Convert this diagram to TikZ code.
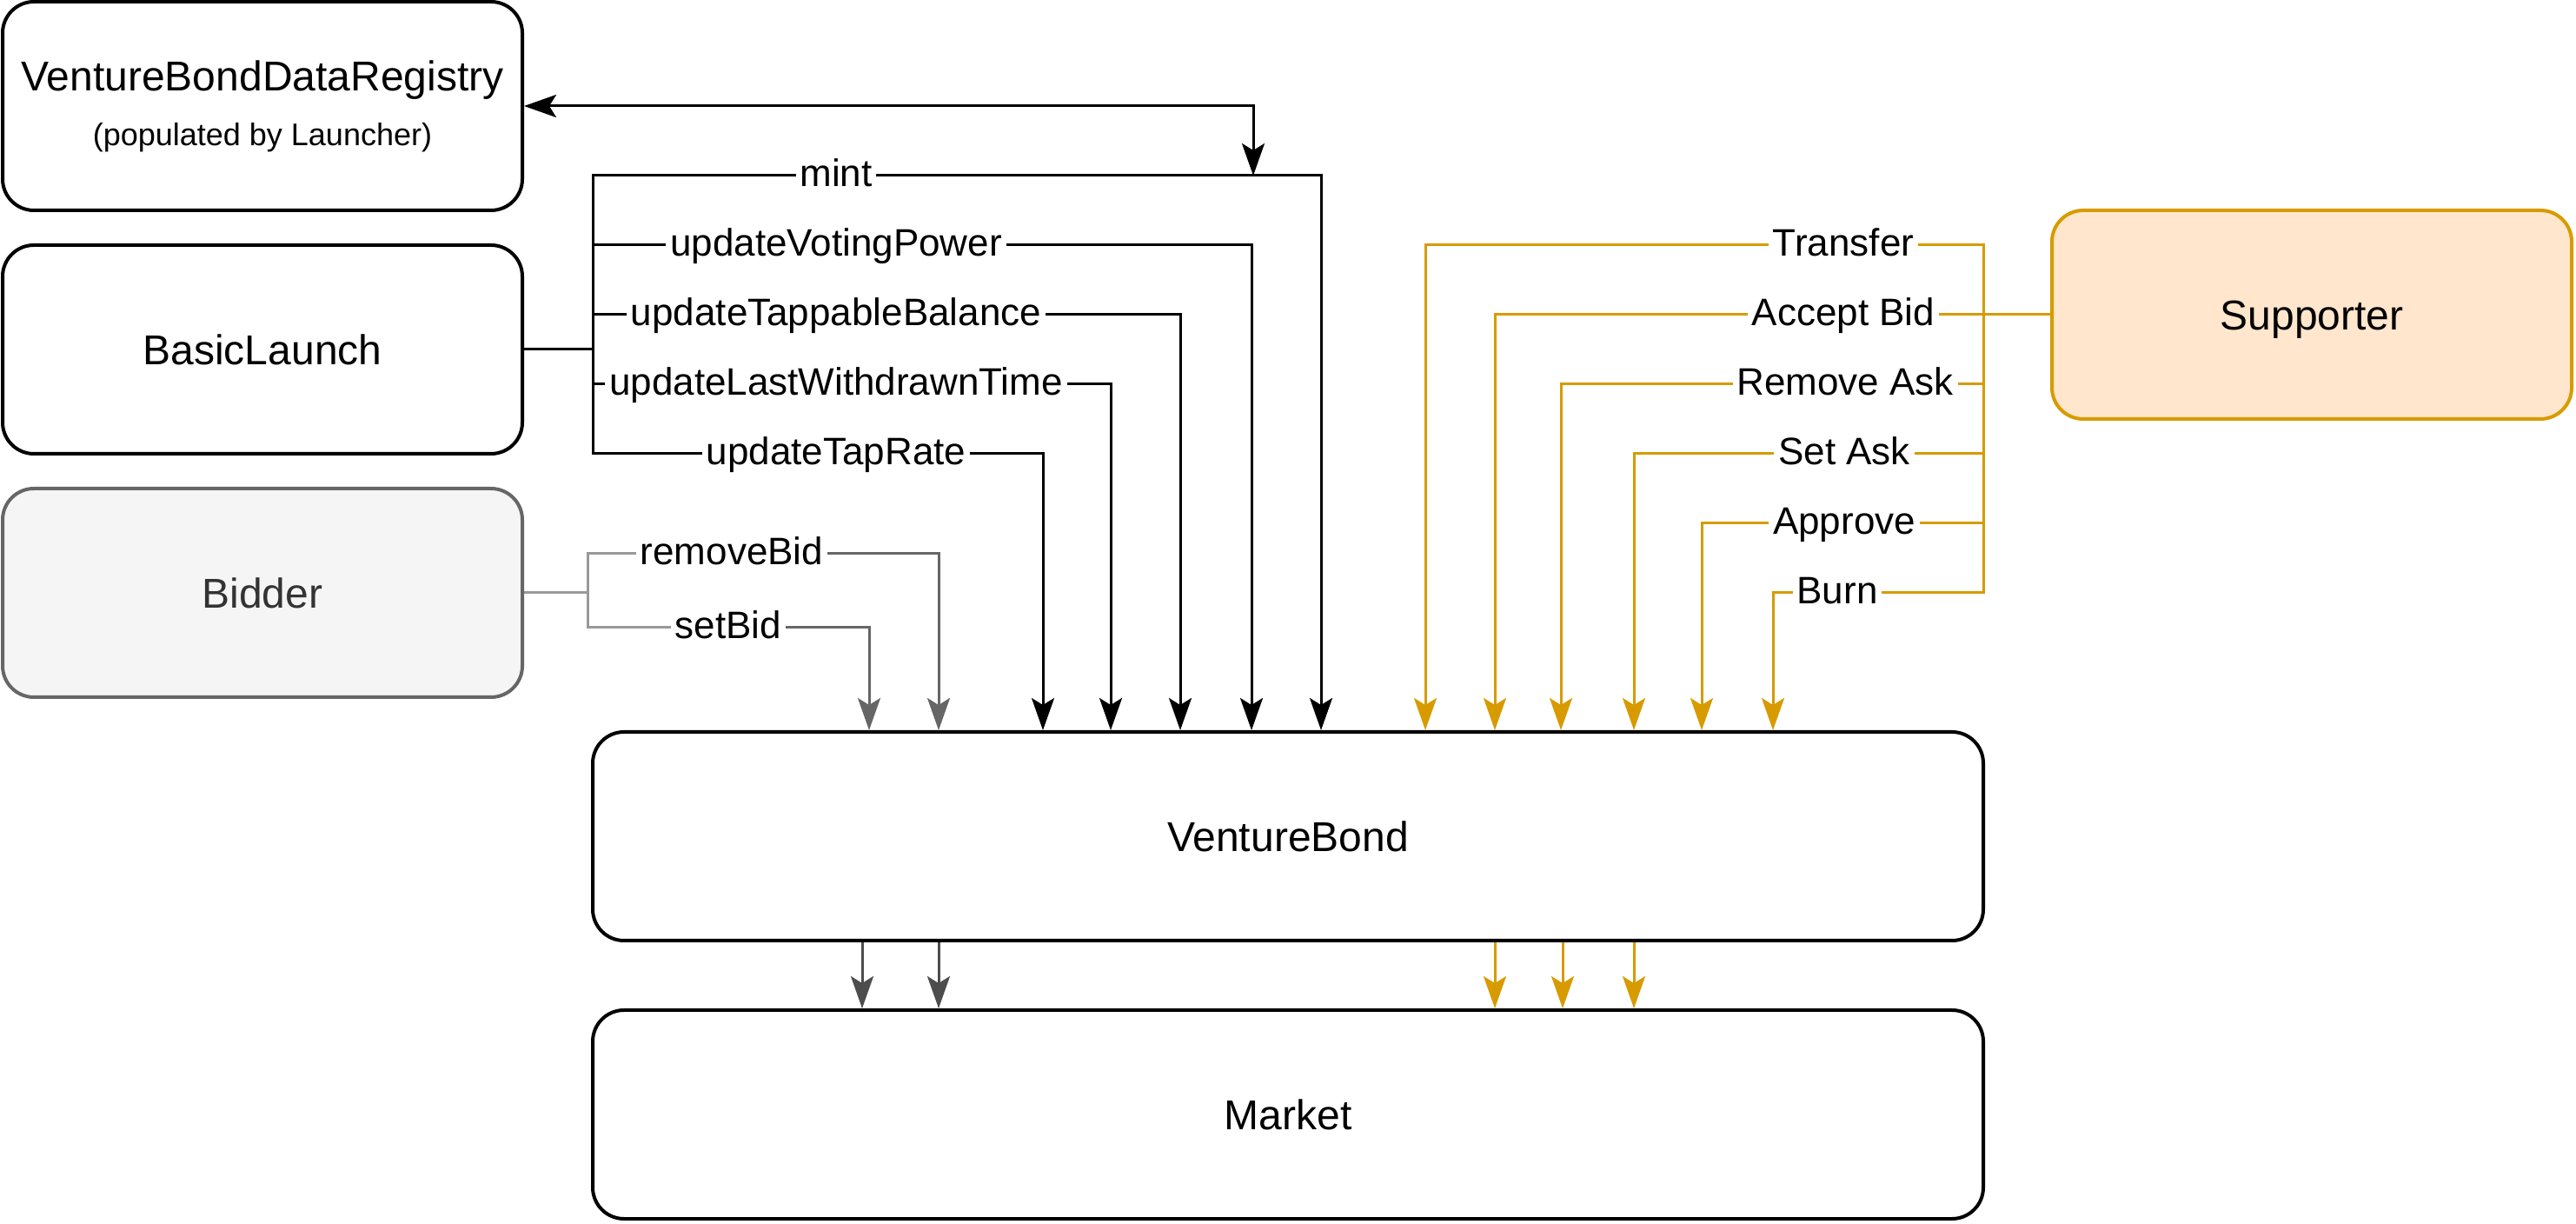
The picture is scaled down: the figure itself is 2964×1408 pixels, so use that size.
\documentclass[tikz,border=0pt]{standalone}
\usepackage{fontspec}
\setsansfont{Liberation Sans}
\usetikzlibrary{positioning,arrows.meta,calc}

\definecolor{suppFill}{HTML}{FFE6CC}
\definecolor{suppLine}{HTML}{D79B00}
\definecolor{bidFill}{HTML}{F5F5F5}
\definecolor{bidLine}{HTML}{666666}
\definecolor{bidText}{HTML}{333333}
\definecolor{greyLight}{HTML}{999999}
\definecolor{greyMid}{HTML}{666666}
\definecolor{greyDark}{HTML}{4D4D4D}

\begin{document}
\begin{tikzpicture}[
  x=0.25pt, y=-0.25pt,
  font=\sffamily,
  >={Stealth[length=9.25pt, width=6.5pt, inset=2pt]},
  box/.style={rectangle, rounded corners=9pt, draw=black, line width=1pt,
              minimum width=149.5pt, minimum height=60pt, inner sep=0pt, align=center,
              font=\sffamily\fontsize{12}{13.75}\selectfont},
  wide/.style={box, minimum width=400pt},
  lbl/.style={inner sep=1pt, text height=8.2pt, text depth=1.7pt,
              font=\sffamily\fontsize{11}{13}\selectfont},
  blk/.style={draw=black, line width=0.75pt},
  gryA/.style={draw=greyLight, line width=0.75pt},
  gryB/.style={draw=greyMid, line width=0.75pt},
  gryC/.style={draw=greyDark, line width=0.75pt},
  org/.style={draw=suppLine, line width=0.75pt}
]
\useasboundingbox (0,0) rectangle (2964,1408);

% boxes
\node[box] (registry) at (302,122) {VentureBondDataRegistry\\[2pt]{\fontsize{9}{11}\selectfont (populated by Launcher)}};
\node[box] (launch) at (302,402) {BasicLaunch};
\node[box, fill=bidFill, draw=bidLine, text=bidText] (bidder) at (302,682) {Bidder};
\node[box, fill=suppFill, draw=suppLine, text height=8.6pt, text depth=0pt] (supporter) at (2660,362) {Supporter};
\node[wide] (bond) at (1482,962) {VentureBond};
\node[wide] (market) at (1482,1282) {Market};

% labels on the launcher calls
\node[lbl] (mint)    at (962,202) {mint};
\node[lbl] (votep)   at (962,282) {updateVotingPower};
\node[lbl] (tapbal)  at (962,362) {updateTappableBalance};
\node[lbl] (lastwd)  at (962,442) {updateLastWithdrawnTime};
\node[lbl] (taprate) at (962,522) {updateTapRate};

% labels on the bidder calls
\node[lbl] (rmbid)  at (842,637) {removeBid};
\node[lbl] (setbid) at (838,722) {setBid};

% labels on the supporter calls
\node[lbl] (transfer) at (2121,282) {Transfer};
\node[lbl] (accbid)   at (2121,362) {Accept Bid};
\node[lbl] (rmask)    at (2123,442) {Remove Ask};
\node[lbl] (setask)   at (2122,522) {Set Ask};
\node[lbl] (approve)  at (2122,602) {Approve};
\node[lbl] (burn)     at (2114,682) {Burn};

\coordinate (lbus) at (682,402);
\coordinate (bbus) at (676,682);
\coordinate (sbus) at (2282,362);
\coordinate (regjoin) at (1442,202);

% launcher
\draw[blk] (launch.east) -- (lbus);
\draw[blk] (lbus) |- (mint.west);
\draw[blk] (lbus) |- (votep.west);
\draw[blk] (lbus) |- (tapbal.west);
\draw[blk] (lbus) |- (lastwd.west);
\draw[blk] (lbus) |- (taprate.west);
\draw[blk,->] (mint.east) -| ($(bond.north west)+(840,0)$);
\draw[blk,->] (votep.east) -| ($(bond.north west)+(760,0)$);
\draw[blk,->] (tapbal.east) -| ($(bond.north west)+(678,0)$);
\draw[blk,->] (lastwd.east) -| ($(bond.north west)+(598,0)$);
\draw[blk,->] (taprate.east) -| ($(bond.north west)+(520,0)$);
\draw[blk,<->] (registry.east) -| (regjoin);

% bidder
\draw[gryA] (bidder.east) -- (bbus);
\draw[gryA] (bbus) |- (rmbid.west);
\draw[gryA] (bbus) |- (setbid.west);
\draw[gryB,->] (rmbid.east) -| ($(bond.north west)+(400,0)$);
\draw[gryB,->] (setbid.east) -| ($(bond.north west)+(320,0)$);

% supporter
\draw[org] (supporter.west) -- (sbus);
\draw[org] (sbus) |- (transfer.east);
\draw[org] (sbus) |- (accbid.east);
\draw[org] (sbus) |- (rmask.east);
\draw[org] (sbus) |- (setask.east);
\draw[org] (sbus) |- (approve.east);
\draw[org] (sbus) |- (burn.east);
\draw[org,->] (transfer.west) -| ($(bond.north west)+(960,0)$);
\draw[org,->] (accbid.west) -| ($(bond.north west)+(1040,0)$);
\draw[org,->] (rmask.west) -| ($(bond.north west)+(1116,0)$);
\draw[org,->] (setask.west) -| ($(bond.north west)+(1200,0)$);
\draw[org,->] (approve.west) -| ($(bond.north west)+(1278,0)$);
\draw[org,->] (burn.west) -| ($(bond.north west)+(1360,0)$);

% bond to market
\draw[gryC,->] ($(bond.south west)+(312,0)$) -- ($(market.north west)+(312,0)$);
\draw[gryC,->] ($(bond.south west)+(400,0)$) -- ($(market.north west)+(400,0)$);
\draw[org,->] ($(bond.south west)+(1040,0)$) -- ($(market.north west)+(1040,0)$);
\draw[org,->] ($(bond.south west)+(1118,0)$) -- ($(market.north west)+(1118,0)$);
\draw[org,->] ($(bond.south west)+(1200,0)$) -- ($(market.north west)+(1200,0)$);
\end{tikzpicture}
\end{document}
